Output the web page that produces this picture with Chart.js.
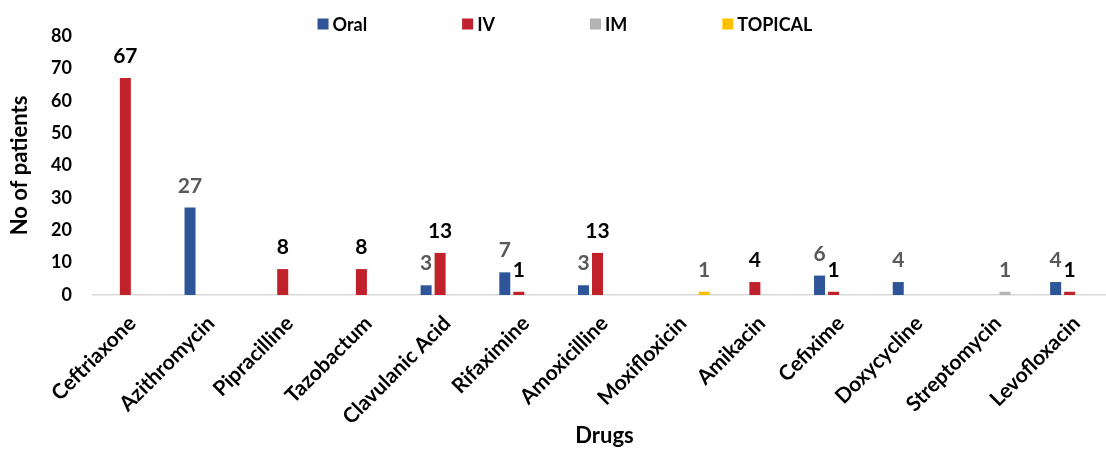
<!DOCTYPE html>
<html>
<head>
<meta charset="utf-8">
<script src="https://cdn.jsdelivr.net/npm/chart.js@4/dist/chart.umd.min.js"></script>
<style>
  html, body { margin: 0; padding: 0; background: #fff; overflow: hidden; }
  #wrap { width: 1116px; height: 450px; }
</style>
</head>
<body>
<div id="wrap"><canvas id="c" width="1116" height="450"></canvas></div>
<script>
// Drug categories and patient counts by route of administration
const drugs = ['Ceftriaxone', 'Azithromycin', 'Pipracilline', 'Tazobactum', 'Clavulanic Acid',
  'Rifaximine', 'Amoxicilline', 'Moxifloxicin', 'Amikacin', 'Cefixime', 'Doxycycline',
  'Streptomycin', 'Levofloxacin'];
const oral    = [0, 27, 0, 0, 3, 7, 3, 0, 0, 6, 4, 0, 4];
const iv      = [67, 0, 8, 8, 13, 1, 13, 0, 4, 1, 0, 0, 1];
const im      = [0, 0, 0, 0, 0, 0, 0, 0, 0, 0, 0, 1, 0];
const topical = [0, 0, 0, 0, 0, 0, 0, 1, 0, 0, 0, 0, 0];
const yTicks  = [0, 10, 20, 30, 40, 50, 60, 70, 80];

const FONT = 'Lato, "Open Sans", sans-serif';

// Writes each non-zero value above its bar
const valueLabels = {
  id: 'valueLabels',
  afterDatasetsDraw(chart, args, opts) {
    const ctx = chart.ctx;
    ctx.save();
    ctx.font = `bold ${opts.size}px ${FONT}`;
    ctx.textAlign = 'center';
    ctx.textBaseline = 'alphabetic';
    chart.data.datasets.forEach((ds, i) => {
      const meta = chart.getDatasetMeta(i);
      meta.data.forEach((bar, j) => {
        const v = ds.data[j];
        if (!v) return;
        ctx.fillStyle = ds.labelColor;
        ctx.fillText(String(v), bar.x, bar.y - opts.offset);
      });
    });
    ctx.restore();
  }
};

// Single-row legend with wide spacing between entries
const topLegend = {
  id: 'topLegend',
  afterDraw(chart, args, o) {
    const ctx = chart.ctx;
    ctx.save();
    ctx.font = `bold ${o.size}px ${FONT}`;
    const items = chart.data.datasets.map(ds => ({
      text: ds.label,
      color: ds.backgroundColor,
      w: o.box + o.textGap + ctx.measureText(ds.label).width
    }));
    const total = items.reduce((s, it) => s + it.w, 0) + o.gap * (items.length - 1);
    let x = o.centerX - total / 2;
    items.forEach(it => {
      ctx.fillStyle = it.color;
      ctx.fillRect(x, o.y - o.box / 2, o.box, o.box);
      ctx.fillStyle = '#000';
      ctx.textBaseline = 'middle';
      ctx.textAlign = 'left';
      ctx.fillText(it.text, x + o.box + o.textGap, o.y + 1);
      x += it.w + o.gap;
    });
    ctx.restore();
  }
};

new Chart(document.getElementById('c'), {
  type: 'bar',
  data: {
    labels: drugs,
    datasets: [
      { label: 'Oral',    data: oral,    backgroundColor: '#2E5597', labelColor: '#595959' },
      { label: 'IV',      data: iv,      backgroundColor: '#C0212A', labelColor: '#000000' },
      { label: 'IM',      data: im,      backgroundColor: '#B4B4B4', labelColor: '#595959' },
      { label: 'TOPICAL', data: topical, backgroundColor: '#FFC000', labelColor: '#595959' }
    ]
  },
  options: {
    responsive: false,
    animation: false,
    categoryPercentage: 0.712,
    barPercentage: 0.786,
    layout: { padding: { top: 36, left: 0, right: 0, bottom: 0 } },
    plugins: {
      legend: { display: false },
      tooltip: { enabled: false },
      valueLabels: { size: 21, offset: 15 },
      topLegend: { size: 18, box: 11, textGap: 4, gap: 95, centerX: 565, y: 24 }
    },
    scales: {
      x: {
        grid: { display: false, drawTicks: false },
        border: { display: true, color: '#D9D9D9', width: 1.5 },
        ticks: {
          autoSkip: false,
          maxRotation: 45, minRotation: 45,
          color: '#000',
          font: { family: FONT, size: 21, weight: 'bold' },
          padding: 16
        },
        title: {
          display: true, text: 'Drugs', color: '#000',
          font: { family: FONT, size: 22, weight: 'bold' },
          padding: { top: 0, bottom: 1 }
        },
        afterFit(s) { s.height = 155; }
      },
      y: {
        min: 0, max: 80,
        grid: { display: false, drawTicks: false },
        border: { display: false },
        afterBuildTicks(s) { s.ticks = yTicks.map(v => ({ value: v })); },
        ticks: {
          color: '#000',
          font: { family: FONT, size: 18, weight: 'bold' },
          padding: 21
        },
        title: {
          display: true, text: 'No of patients', color: '#000',
          font: { family: FONT, size: 22, weight: 'bold' },
          padding: { top: 7, bottom: 0 }
        },
        afterFit(s) { s.width = 93; }
      }
    }
  },
  plugins: [valueLabels, topLegend]
});
</script>
</body>
</html>
